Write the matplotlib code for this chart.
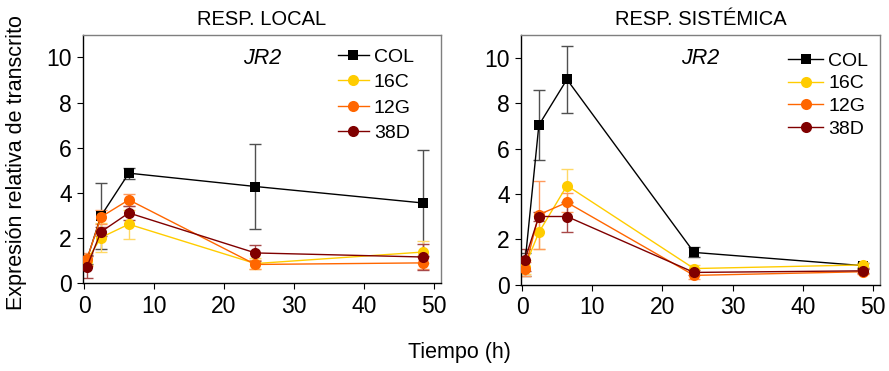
import matplotlib
matplotlib.use("Agg")
import matplotlib.pyplot as plt

plt.rcParams['font.family'] = ['Liberation Sans', 'DejaVu Sans']

tiempo = [0.4, 2.4, 6.4, 24.5, 48.5]
series = ["COL", "16C", "12G", "38D"]
colores = {"COL": "#000000", "16C": "#FFCC00", "12G": "#FF6600", "38D": "#800000"}
colores_err = {"COL": "#505050", "16C": "#FFD966", "12G": "#FF9A5C", "38D": "#A84848"}
marcadores = {"COL": "s", "16C": "o", "12G": "o", "38D": "o"}

local_val = {
    "COL": [1.05, 2.98, 4.88, 4.29, 3.56],
    "16C": [1.00, 2.03, 2.62, 0.88, 1.39],
    "12G": [1.06, 2.94, 3.70, 0.84, 0.91],
    "38D": [0.73, 2.28, 3.12, 1.35, 1.17],
}
local_err = {
    "COL": [0.20, 1.45, 0.25, 1.90, 2.35],
    "16C": [0.20, 0.64, 0.64, 0.25, 0.50],
    "12G": [0.30, 0.30, 0.27, 0.20, 0.25],
    "38D": [0.50, 0.20, 0.30, 0.37, 0.59],
}
sist_val = {
    "COL": [0.90, 7.03, 9.04, 1.43, 0.85],
    "16C": [0.80, 2.31, 4.37, 0.72, 0.88],
    "12G": [0.69, 3.09, 3.63, 0.42, 0.58],
    "38D": [1.10, 3.01, 3.01, 0.55, 0.62],
}
sist_err = {
    "COL": [0.50, 1.55, 1.47, 0.22, 0.10],
    "16C": [0.30, 0.74, 0.75, 0.15, 0.10],
    "12G": [0.30, 1.50, 0.40, 0.15, 0.10],
    "38D": [0.50, 0.20, 0.66, 0.10, 0.10],
}
titulos = ["RESP. LOCAL", "RESP. SISTÉMICA"]
gen = "JR2"
xticks = [0, 10, 20, 30, 40, 50]
yticks = [0, 2, 4, 6, 8, 10]

fig = plt.figure(figsize=(8.89, 3.71), dpi=100)
ax1 = fig.add_axes([0.0934, 0.236, 0.4023, 0.670])
ax2 = fig.add_axes([0.586, 0.232, 0.404, 0.674])

configs = [
    (ax1, local_val, local_err, (0.712, 0.946), 0.40, 1.6),
    (ax2, sist_val, sist_err, (0.744, 0.931), 0.26, 1.8),
]

for i, (ax, vals, errs, lpos, lspace, hlen) in enumerate(configs):
    for s in series:
        ms = 7 if marcadores[s] == "s" else 8
        ax.errorbar(tiempo, vals[s], yerr=errs[s], fmt='none',
                    ecolor=colores_err[s], elinewidth=1.0, capsize=4.5,
                    capthick=1.0, zorder=2)
        ax.plot(tiempo, vals[s], color=colores[s], lw=1.0,
                marker=marcadores[s], ms=ms, markeredgewidth=0,
                label=s, zorder=3)
    ax.set_xlim(-0.15, 51.0)
    ax.set_ylim(0, 11)
    ax.set_xticks(xticks)
    ax.set_yticks(yticks)
    ax.tick_params(direction='out', length=4, width=0.8, labelsize=16.5,
                   pad=4)
    for side in ["top", "right"]:
        ax.spines[side].set_color("#7f7f7f")
        ax.spines[side].set_linewidth(1.0)
    for side in ["left", "bottom"]:
        ax.spines[side].set_color("#000000")
        ax.spines[side].set_linewidth(1.0)
    ax.set_title(titulos[i], fontsize=14.5, pad=7)
    ax.text(0.5, 0.905, gen, transform=ax.transAxes, fontsize=15.5,
            style='italic', ha='center', va='center')
    ax.legend(loc='upper left', bbox_to_anchor=lpos, frameon=False,
              fontsize=14, handlelength=hlen, handletextpad=0.26,
              labelspacing=lspace, borderpad=0, borderaxespad=0)

fig.text(0.019, 0.563, "Expresión relativa de transcrito", rotation=90,
         fontsize=15.5, ha='center', va='center')
fig.text(0.517, 0.051, "Tiempo (h)", fontsize=15.5, ha='center', va='center')

fig.savefig("out.png", dpi=100)
